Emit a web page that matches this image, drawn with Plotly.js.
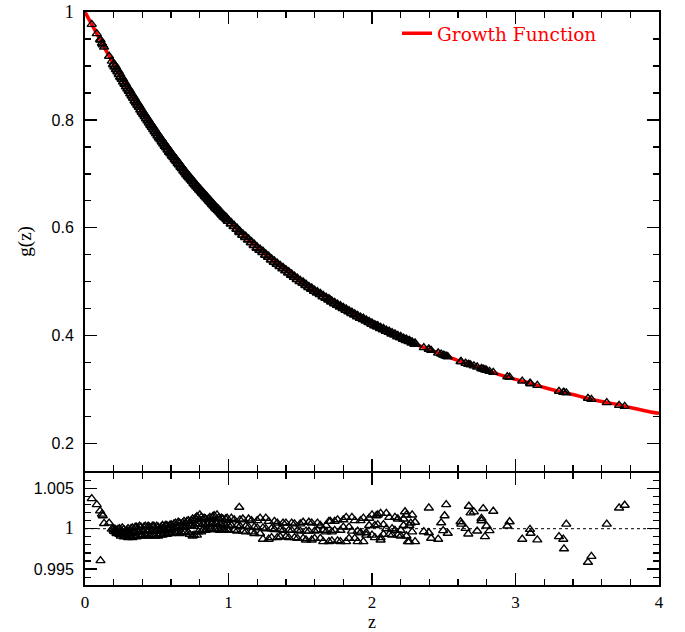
<!DOCTYPE html>
<html>
<head>
<meta charset="utf-8">
<script src="https://cdn.plot.ly/plotly-3.0.1.min.js"></script>
<style>html,body{margin:0;padding:0;background:#fff;}#chart{width:685px;height:632px;}</style>
</head>
<body>
<div id="chart"></div>
<script>
// Growth function curve
const curveZ = [0,0.1,0.2,0.3,0.4,0.5,0.6,0.7,0.8,0.9,1.0,1.1,1.2,1.3,1.4,1.5,1.6,1.7,1.8,1.9,2.0,2.1,2.2,2.3,2.4,2.5,2.6,2.7,2.8,2.9,3.0,3.1,3.2,3.3,3.4,3.5,3.6,3.7,3.8,3.9,4.0];
const curveG = [1.000,0.951,0.903,0.858,0.815,0.775,0.738,0.703,0.671,0.641,0.613,0.587,0.563,0.541,0.521,0.501,0.483,0.467,0.451,0.436,0.422,0.409,0.397,0.385,0.374,0.364,0.354,0.345,0.336,0.327,0.319,0.312,0.304,0.297,0.291,0.284,0.278,0.273,0.267,0.261,0.256];

// Dense band of measured points
const bandZ = [0.20,0.21,0.22,0.23,0.24,0.25,0.26,0.27,0.28,0.29,0.30,0.31,0.32,0.33,0.34,0.35,0.36,0.37,0.38,0.39,0.40,0.41,0.42,0.43,0.44,0.45,0.46,0.47,0.48,0.49,0.50,0.51,0.52,0.53,0.54,0.55,0.56,0.57,0.58,0.59,0.60,0.61,0.62,0.63,0.64,0.65,0.66,0.67,0.68,0.69,0.70,0.71,0.72,0.73,0.74,0.75,0.76,0.77,0.78,0.79,0.80,0.81,0.82,0.83,0.84,0.85,0.86,0.87,0.88,0.89,0.90,0.91,0.92,0.93,0.94,0.95,0.96,0.97,0.98,0.99,1.00,
  1.02,1.04,1.06,1.08,1.10,1.12,1.14,1.16,1.18,1.20,1.22,1.24,1.26,1.28,1.30,1.32,1.34,1.36,1.38,1.40,1.42,1.44,1.46,1.48,1.50,1.52,1.54,1.56,1.58,1.60,1.62,1.64,1.66,1.68,1.70,1.72,1.74,1.76,1.78,1.80,1.82,1.84,1.86,1.88,1.90,1.92,1.94,1.96,1.98,2.00,2.02,2.04,2.06,2.08,2.10,2.12,2.14,2.16,2.18,2.20,2.22,2.24,2.26,2.28,2.30];
const bandG = [0.903,0.899,0.894,0.890,0.885,0.880,0.876,0.871,0.867,0.862,0.858,0.854,0.849,0.845,0.841,0.836,0.832,0.828,0.824,0.819,0.815,0.811,0.807,0.803,0.799,0.795,0.791,0.787,0.783,0.779,0.775,0.771,0.767,0.764,0.760,0.756,0.752,0.749,0.745,0.741,0.738,0.734,0.731,0.727,0.724,0.720,0.717,0.713,0.710,0.706,0.703,0.699,0.696,0.693,0.690,0.687,0.683,0.680,0.677,0.674,0.671,0.668,0.665,0.662,0.659,0.656,0.653,0.650,0.647,0.644,0.641,0.638,0.635,0.633,0.630,0.627,0.624,0.621,0.619,0.616,0.613,
  0.608,0.603,0.598,0.592,0.587,0.583,0.578,0.573,0.568,0.563,0.559,0.555,0.550,0.546,0.541,0.537,0.533,0.529,0.525,0.521,0.517,0.513,0.509,0.505,0.501,0.498,0.494,0.490,0.487,0.483,0.480,0.477,0.473,0.470,0.467,0.463,0.460,0.457,0.454,0.451,0.448,0.445,0.442,0.439,0.436,0.433,0.431,0.428,0.425,0.422,0.419,0.417,0.414,0.412,0.409,0.407,0.404,0.402,0.399,0.397,0.394,0.392,0.390,0.387,0.385];
const bandR = [1.0000,0.9996,0.9998,0.9999,0.9993,0.9996,1.0001,0.9990,0.9994,0.9998,0.9989,0.9994,1.0000,0.9989,0.9995,1.0002,0.9990,0.9996,1.0003,0.9991,0.9997,1.0002,0.9992,0.9997,1.0003,0.9991,0.9996,1.0003,0.9992,0.9998,1.0003,0.9991,0.9997,1.0002,0.9992,0.9999,1.0004,0.9993,0.9998,1.0004,0.9994,1.0000,1.0006,0.9995,1.0001,1.0008,0.9994,1.0002,1.0007,0.9996,1.0003,1.0009,0.9995,1.0004,1.0010,0.9991,1.0003,1.0013,0.9992,1.0006,1.0017,0.9996,1.0006,1.0013,0.9998,1.0005,1.0012,0.9999,1.0006,1.0015,1.0000,1.0007,1.0017,0.9999,1.0006,1.0013,0.9998,1.0005,1.0012,0.9999,1.0004,
  1.0013,0.9998,1.0004,1.0011,0.9997,1.0003,1.0012,0.9996,1.0002,1.0010,0.9994,1.0001,1.0013,0.9987,1.0000,1.0009,0.9989,0.9999,1.0007,0.9990,0.9998,1.0007,0.9989,0.9998,1.0006,0.9988,0.9997,1.0008,0.9986,0.9997,1.0007,0.9988,0.9998,1.0004,0.9984,0.9996,1.0009,0.9985,0.9998,1.0011,0.9984,1.0002,1.0014,0.9988,0.9997,1.0010,0.9984,0.9995,1.0013,0.9992,1.0004,1.0017,0.9989,1.0005,1.0019,0.9993,1.0000,1.0014,0.9992,0.9998,1.0012,0.9991,1.0004,1.0017,0.9984];
// second group of residuals at the same redshifts
const bandR2 = [0.9997,0.9999,0.9994,0.9995,1.0000,0.9991,0.9993,0.9999,0.9991,0.9993,1.0000,0.9990,0.9994,1.0001,0.9991,0.9996,1.0002,0.9992,0.9996,1.0002,0.9992,0.9997,1.0003,0.9991,0.9997,1.0002,0.9992,0.9998,1.0003,0.9991,0.9997,1.0002,0.9992,0.9999,1.0004,0.9993,0.9998,1.0004,0.9994,1.0000,1.0005,0.9995,1.0001,1.0007,0.9995,1.0002,1.0007,0.9996,1.0003,1.0009,0.9996,1.0004,1.0010,0.9993,1.0003,1.0012,0.9992,1.0006,1.0015,0.9996,1.0006,1.0014,0.9998,1.0005,1.0012,0.9999,1.0006,1.0014,1.0000,1.0007,1.0016,0.9999,1.0006,1.0013,0.9998,1.0005,1.0012,0.9999,1.0004,1.0013,0.9998,
  1.0004,1.0011,0.9997,1.0003,1.0012,0.9996,1.0002,1.0010,0.9994,1.0001,1.0013,0.9987,1.0000,1.0009,0.9989,0.9999,1.0007,0.9990,0.9998,1.0007,0.9989,0.9998,1.0006,0.9988,0.9997,1.0008,0.9986,0.9997,1.0007,0.9988,0.9998,1.0004,0.9984,0.9996,1.0009,0.9985,0.9998,1.0011,0.9984,1.0002,1.0014,0.9988,0.9997,1.0010,0.9984,0.9995,1.0013,0.9992,1.0004,1.0017,0.9989,1.0005,1.0019,0.9993,1.0000,1.0014,0.9992,0.9998,1.0012,0.9991,1.0004,1.0017,0.9984,0.9996,1.0008];

// Isolated points
const sparseZ = [0.047,0.082,0.105,0.108,0.118,0.124,0.133,0.168,0.187,1.075,1.71,2.03,2.06,2.23,2.25,2.27,
  2.361,2.396,2.396,2.412,2.461,2.482,2.496,2.506,2.517,2.528,2.617,2.622,2.652,2.671,2.675,2.687,2.710,2.733,2.763,2.763,2.775,2.787,2.798,2.819,2.845,2.943,2.959,3.047,3.101,3.105,3.152,3.303,3.333,3.338,3.354,3.505,3.529,3.636,3.722,3.761];
const sparseG = [0.977,0.960,0.949,0.948,0.942,0.939,0.935,0.918,0.909,0.594,0.466,0.418,0.414,0.393,0.391,0.389,
  0.378,0.375,0.375,0.373,0.368,0.366,0.364,0.363,0.362,0.361,0.352,0.352,0.349,0.347,0.347,0.346,0.344,0.342,0.339,0.339,0.338,0.337,0.336,0.334,0.332,0.324,0.323,0.316,0.312,0.311,0.308,0.297,0.295,0.295,0.294,0.284,0.282,0.276,0.271,0.269];
const sparseR = [1.00372,1.00298,1.00220,0.99605,1.00180,1.00160,1.00065,1.00070,0.99995,1.00265,1.00090,1.00160,0.99860,1.00210,0.99840,1.00070,
  0.99963,1.00257,0.99950,0.99882,0.99870,1.00073,0.99976,1.00160,1.00298,0.99943,1.00086,1.00057,1.00004,0.99935,1.00278,1.00196,1.00208,0.99971,1.00127,1.00098,1.00249,0.99902,1.00033,0.99976,1.00216,1.00033,1.00086,0.99870,0.99992,0.99943,0.99861,0.99902,0.99870,0.99751,1.00057,0.99584,0.99657,1.00057,1.00257,1.00290];

// Reference line in residual panel
const refZ = [0, 4];
const refR = [1, 1];

const topTickVals = [0.2, 0.4, 0.6, 0.8, 1];
const topTickText = ['0.2', '0.4', '0.6', '0.8', '<span style="font-family:Liberation Serif;font-size:18px">1</span>'];
const botTickVals = [0.995, 1, 1.005];
const botTickText = ['0.995', '<span style="font-family:Liberation Serif;font-size:18px">1</span>', '1.005'];
const xTickVals = [0, 1, 2, 3, 4];
const xTickText = ['0', '1', '2', '3', '4'];

const mkTop = {symbol: 'triangle-up-open', size: 9, color: '#000', line: {width: 1.8, color: '#000'}};
const mk = {symbol: 'triangle-up-open', size: 8, color: '#000', line: {width: 1.4, color: '#000'}};

const traces = [
  {x: curveZ, y: curveG, xaxis: 'x', yaxis: 'y', mode: 'lines', name: 'Growth Function',
   line: {color: '#ff0000', width: 3.5, shape: 'spline'}, showlegend: true},
  {x: bandZ, y: bandG, xaxis: 'x', yaxis: 'y', mode: 'markers', marker: mkTop, showlegend: false},
  {x: sparseZ, y: sparseG, xaxis: 'x', yaxis: 'y', mode: 'markers', marker: mk, showlegend: false},
  {x: refZ, y: refR, xaxis: 'x2', yaxis: 'y2', mode: 'lines', line: {color: '#000', width: 1, dash: 'dot'}, showlegend: false},
  {x: bandZ, y: bandR, xaxis: 'x2', yaxis: 'y2', mode: 'markers', marker: mk, showlegend: false},
  {x: bandZ, y: bandR2, xaxis: 'x2', yaxis: 'y2', mode: 'markers', marker: mk, showlegend: false},
  {x: sparseZ, y: sparseR, xaxis: 'x2', yaxis: 'y2', mode: 'markers', marker: mk, showlegend: false}
];

const axCommon = {
  ticks: 'inside', ticklen: 12, tickwidth: 1.3, tickcolor: '#000',
  showline: true, linewidth: 2, linecolor: '#000', mirror: 'allticks',
  showgrid: false, zeroline: false
};

const layout = {
  width: 685, height: 632,
  margin: {l: 85, r: 26, t: 12, b: 47},
  paper_bgcolor: '#fff', plot_bgcolor: '#fff',
  showlegend: true,
  legend: {x: 0.5436, y: 0.962, xanchor: 'left', yanchor: 'middle', bgcolor: 'rgba(0,0,0,0)',
           font: {family: 'DejaVu Serif', size: 18.5, color: '#ff0000'}},
  xaxis: Object.assign({}, axCommon, {domain: [0, 1], anchor: 'y', range: [0, 4],
    tickmode: 'array', tickvals: xTickVals, ticktext: xTickText, showticklabels: false,
    minor: {dtick: 0.2, tick0: 0, ticks: 'inside', ticklen: 6, tickwidth: 1.3, tickcolor: '#000'}}),
  yaxis: Object.assign({}, axCommon, {domain: [0.19948, 1], anchor: 'x', range: [0.1498, 1.0],
    tickmode: 'array', tickvals: topTickVals, ticktext: topTickText,
    tickfont: {family: 'Liberation Sans', size: 16, color: '#000'}, ticklabelstandoff: 6,
    minor: {dtick: 0.05, tick0: 0, ticks: 'inside', ticklen: 6, tickwidth: 1.3, tickcolor: '#000'},
    title: {text: 'g(z)', font: {family: 'Liberation Serif', size: 19, color: '#000'}, standoff: 15}}),
  xaxis2: Object.assign({}, axCommon, {domain: [0, 1], anchor: 'y2', range: [0, 4],
    tickmode: 'array', tickvals: xTickVals, ticktext: xTickText,
    tickfont: {family: 'Liberation Serif', size: 17, color: '#000'}, ticklabelstandoff: 1,
    minor: {dtick: 0.2, tick0: 0, ticks: 'inside', ticklen: 6, tickwidth: 1.3, tickcolor: '#000'},
    title: {text: 'z', font: {family: 'Liberation Serif', size: 18, color: '#000'}, standoff: 6}}),
  yaxis2: Object.assign({}, axCommon, {domain: [0, 0.19599], anchor: 'x2', range: [0.99303, 1.00693],
    tickmode: 'array', tickvals: botTickVals, ticktext: botTickText,
    tickfont: {family: 'Liberation Sans', size: 16, color: '#000'}, ticklabelstandoff: 6,
    minor: {dtick: 0.001, tick0: 1, ticks: 'inside', ticklen: 6, tickwidth: 1.3, tickcolor: '#000'}})
};

Plotly.newPlot('chart', traces, layout, {displayModeBar: false, staticPlot: true});
</script>
</body>
</html>
